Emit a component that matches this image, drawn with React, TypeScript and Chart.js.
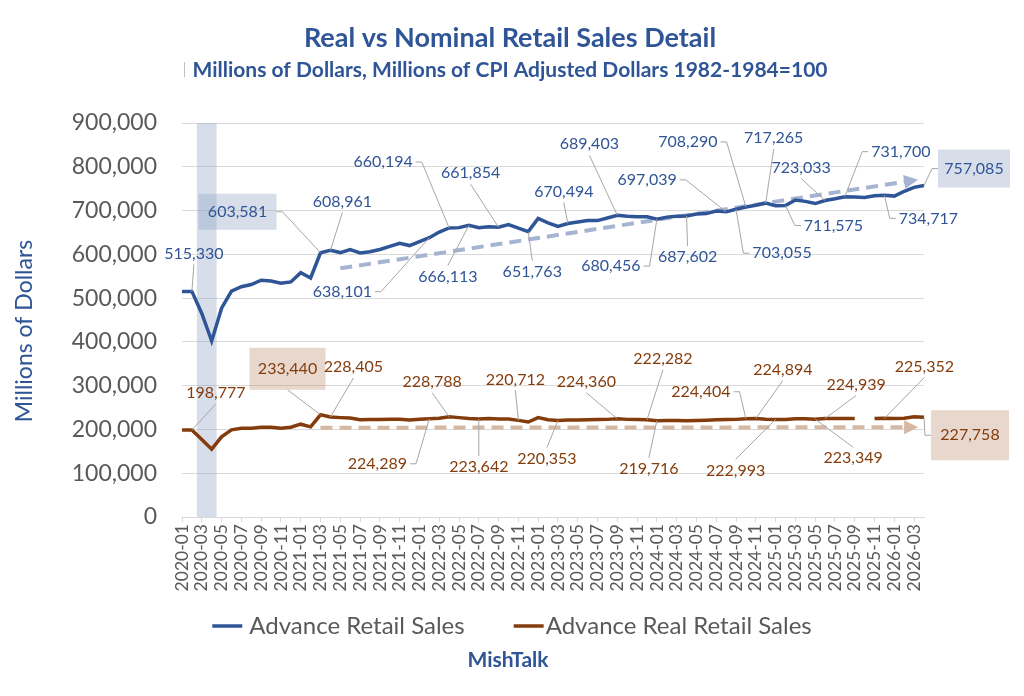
import { useEffect, useRef } from 'react';
import { Chart, registerables } from 'chart.js';

Chart.register(...registerables);

// ---------- data ----------
const months = [
  '2020-01', '2020-02', '2020-03', '2020-04', '2020-05', '2020-06', '2020-07', '2020-08', '2020-09', '2020-10', '2020-11', '2020-12',
  '2021-01', '2021-02', '2021-03', '2021-04', '2021-05', '2021-06', '2021-07', '2021-08', '2021-09', '2021-10', '2021-11', '2021-12',
  '2022-01', '2022-02', '2022-03', '2022-04', '2022-05', '2022-06', '2022-07', '2022-08', '2022-09', '2022-10', '2022-11', '2022-12',
  '2023-01', '2023-02', '2023-03', '2023-04', '2023-05', '2023-06', '2023-07', '2023-08', '2023-09', '2023-10', '2023-11', '2023-12',
  '2024-01', '2024-02', '2024-03', '2024-04', '2024-05', '2024-06', '2024-07', '2024-08', '2024-09', '2024-10', '2024-11', '2024-12',
  '2025-01', '2025-02', '2025-03', '2025-04', '2025-05', '2025-06', '2025-07', '2025-08', '2025-09', '2025-10', '2025-11', '2025-12',
  '2026-01', '2026-02', '2026-03', '2026-04',
];

const nominalSales: (number | null)[] = [
  515000, 515330, 465000, 402000, 477000, 516000, 526000, 531000, 541000, 539000, 534000, 537000,
  558000, 546000, 603581, 608961, 604000, 611000, 603000, 606000, 611000, 618000, 625000, 620000,
  629000, 638101, 651000, 660194, 661000, 666113, 661000, 663000, 661854, 668000, 660000, 651763,
  682000, 672000, 664000, 670494, 674000, 677000, 677000, 683000, 689403, 687000, 686000, 686000,
  680456, 685000, 687000, 687602, 692000, 693000, 699000, 697039, 703055, 708290, 712000, 717265,
  711000, 711575, 724000, 721000, 716000, 723033, 727000, 731700, 731000, 730000, 734000, 734717,
  733000, 744000, 753000, 757085,
];

const realSales: (number | null)[] = [
  198500, 198777, 177000, 155000, 183000, 199000, 202500, 203000, 205000, 205000, 202500, 205000,
  212000, 206000, 233440, 228405, 227000, 226000, 222000, 222500, 222500, 223500, 223500, 221500,
  223500, 224289, 225500, 228788, 227000, 225000, 223642, 225000, 224000, 224000, 220712, 217000,
  227000, 222000, 220353, 221500, 221500, 222000, 222500, 223000, 224360, 223000, 222500, 222282,
  219716, 220500, 220500, 220000, 220500, 221000, 222000, 222500, 223000, 224404, 224894, 223500,
  222993, 222500, 224500, 224500, 223349, 224939, 225000, 225000, 225000, null, 225000, 225352,
  225000, 225500, 229000, 227758,
];

const nominalTrend = [
  { x: '2021-05', y: 568000 },
  { x: '2026-03', y: 769000 },
];
const realTrend = [
  { x: '2021-03', y: 204000 },
  { x: '2026-03', y: 205000 },
];

const shadedMonths = ['2020-03', '2020-04'];

const yTicks = { min: 0, max: 900000, step: 100000 };

const seriesNames = ['Advance Retail Sales', 'Advance Real Retail Sales'];

// ---------- callout layout (pixel offsets of label from its point) ----------
type Callout = { month: string; dx: number; dy: number; box?: [number, number] };

const nominalCallouts: Callout[] = [
  { month: '2020-02', dx: 2, dy: -38 },
  { month: '2021-03', dx: -83, dy: -41, box: [39, 18] },
  { month: '2021-04', dx: 12, dy: -49 },
  { month: '2022-02', dx: -87, dy: 54 },
  { month: '2022-04', dx: -66, dy: -66 },
  { month: '2022-06', dx: -21, dy: 51 },
  { month: '2022-09', dx: -28, dy: -54 },
  { month: '2022-12', dx: 4, dy: 40 },
  { month: '2023-04', dx: -4, dy: -32 },
  { month: '2023-09', dx: -28, dy: -71 },
  { month: '2024-01', dx: -46, dy: 47 },
  { month: '2024-04', dx: 1, dy: 41 },
  { month: '2024-08', dx: -79, dy: -32 },
  { month: '2024-09', dx: 46, dy: 44 },
  { month: '2024-10', dx: -58, dy: -65 },
  { month: '2024-12', dx: 8, dy: -65 },
  { month: '2025-02', dx: 48, dy: 20 },
  { month: '2025-06', dx: -24, dy: -33 },
  { month: '2025-08', dx: 56, dy: -45 },
  { month: '2025-12', dx: 44, dy: 23 },
  { month: '2026-04', dx: 50, dy: -17, box: [36, 19] },
];

const realCallouts: Callout[] = [
  { month: '2020-02', dx: 24, dy: -37 },
  { month: '2021-03', dx: -33, dy: -46, box: [38, 21] },
  { month: '2021-04', dx: 23, dy: -50 },
  { month: '2022-02', dx: -52, dy: 45 },
  { month: '2022-04', dx: -17, dy: -35 },
  { month: '2022-07', dx: 0, dy: 48 },
  { month: '2022-11', dx: -3, dy: -41 },
  { month: '2023-03', dx: -11, dy: 38 },
  { month: '2023-09', dx: -31, dy: -37 },
  { month: '2023-12', dx: 16, dy: -61 },
  { month: '2024-01', dx: -8, dy: 48 },
  { month: '2024-10', dx: -45, dy: -27 },
  { month: '2024-11', dx: 27, dy: -49 },
  { month: '2025-01', dx: -40, dy: 51 },
  { month: '2025-05', dx: 38, dy: 39 },
  { month: '2025-06', dx: 31, dy: -34 },
  { month: '2025-12', dx: 40, dy: -52 },
  { month: '2026-04', dx: 46, dy: 18, box: [39, 25] },
];

// ---------- styles ----------
const FONT = 'Lato, "Open Sans", sans-serif';
const BLUE = '#2F5597';
const BROWN = '#843C0C';
const TEXT_GRAY = '#595959';
const GRID = '#D9D9D9';
const BLUE_TREND = '#A5B4D1';
const BROWN_TREND = '#D5B8A3';
const BAND = 'rgba(140,160,195,0.35)';
const BLUE_BOX = 'rgba(140,160,195,0.35)';
const BROWN_BOX = 'rgba(190,140,110,0.35)';

const fmt = (v: number) => v.toLocaleString('en-US');

const bandPlugin = {
  id: 'band',
  beforeDatasetsDraw(chart: any) {
    const { ctx, chartArea } = chart;
    const xs = chart.scales.x;
    const i0 = months.indexOf(shadedMonths[0]);
    const i1 = months.indexOf(shadedMonths[shadedMonths.length - 1]);
    const half = (xs.getPixelForValue(1) - xs.getPixelForValue(0)) / 2;
    const x0 = xs.getPixelForValue(i0) - half;
    const x1 = xs.getPixelForValue(i1) + half;
    ctx.save();
    ctx.fillStyle = BAND;
    ctx.fillRect(x0, chartArea.top, x1 - x0, chartArea.bottom - chartArea.top);
    ctx.restore();
  },
};

const arrowPlugin = {
  id: 'arrows',
  afterDatasetsDraw(chart: any) {
    const ctx = chart.ctx;
    [2, 3].forEach((di) => {
      const meta = chart.getDatasetMeta(di);
      const pts = meta.data;
      if (pts.length < 2) return;
      const a = pts[pts.length - 2];
      const b = pts[pts.length - 1];
      const ang = Math.atan2(b.y - a.y, b.x - a.x);
      const len = 14;
      const hw = 7;
      const color = chart.data.datasets[di].borderColor;
      ctx.save();
      ctx.translate(b.x, b.y);
      ctx.rotate(ang);
      ctx.fillStyle = color;
      ctx.beginPath();
      ctx.moveTo(4, 0);
      ctx.lineTo(4 - len, -hw);
      ctx.lineTo(4 - len, hw);
      ctx.closePath();
      ctx.fill();
      ctx.restore();
    });
  },
};

const calloutPlugin = {
  id: 'callouts',
  afterDatasetsDraw(chart: any) {
    const ctx = chart.ctx;
    const xs = chart.scales.x;
    const ys = chart.scales.y;
    const groups = [
      { values: nominalSales, callouts: nominalCallouts, color: BLUE, box: BLUE_BOX },
      { values: realSales, callouts: realCallouts, color: BROWN, box: BROWN_BOX },
    ];
    ctx.save();
    ctx.font = `16px ${FONT}`;
    for (const g of groups) {
      for (const c of g.callouts) {
        const i = months.indexOf(c.month);
        const v = g.values[i];
        if (v == null) continue;
        const px = xs.getPixelForValue(i);
        const py = ys.getPixelForValue(v);
        const text = fmt(v);
        const w = ctx.measureText(text).width;
        const cx = px + c.dx;
        const cy = py + c.dy;
        const hw = c.box ? c.box[0] : w / 2 + 3;
        const hh = c.box ? c.box[1] : 11;
        if (c.box) {
          ctx.fillStyle = g.box;
          ctx.fillRect(cx - hw, cy - hh, hw * 2, hh * 2);
        }
        ctx.strokeStyle = '#A6A6A6';
        ctx.lineWidth = 1;
        ctx.beginPath();
        if (Math.abs(c.dx) <= w / 2 + 12) {
          const sy = c.dy < 0 ? cy + hh : cy - hh;
          ctx.moveTo(cx, sy);
          ctx.lineTo(px, py);
        } else {
          const side = c.dx < 0 ? 1 : -1;
          const sx = cx + side * hw;
          ctx.moveTo(sx, cy);
          ctx.lineTo(sx + side * 6, cy);
          ctx.lineTo(px, py);
        }
        ctx.stroke();
        ctx.fillStyle = g.color;
        ctx.textAlign = 'center';
        ctx.textBaseline = 'middle';
        ctx.fillText(text, cx, cy);
      }
    }
    ctx.restore();
  },
};

const textPlugin = {
  id: 'texts',
  afterDraw(chart: any) {
    const ctx = chart.ctx;
    ctx.save();
    ctx.textBaseline = 'middle';
    ctx.textAlign = 'center';
    // title
    ctx.fillStyle = BLUE;
    ctx.font = `bold 27px ${FONT}`;
    ctx.fillText('Real vs Nominal Retail Sales Detail', 510, 38);
    ctx.font = `bold 21px ${FONT}`;
    ctx.fillText('Millions of Dollars, Millions of CPI Adjusted Dollars 1982-1984=100', 510, 70);
    ctx.strokeStyle = '#BFBFBF';
    ctx.lineWidth = 1;
    ctx.beginPath();
    ctx.moveTo(184.5, 62);
    ctx.lineTo(184.5, 77);
    ctx.stroke();
    // y title
    ctx.save();
    ctx.translate(25, 331);
    ctx.rotate(-Math.PI / 2);
    ctx.font = `23px ${FONT}`;
    ctx.fillStyle = BLUE;
    ctx.fillText('Millions of Dollars', 0, 0);
    ctx.restore();
    // legend
    ctx.font = `24px ${FONT}`;
    const colors = [BLUE, BROWN];
    const marker = 30;
    const gaps = [7, 2];
    const itemGap = 49;
    const widths = seriesNames.map((n) => ctx.measureText(n).width);
    const total = widths.reduce((s, w, i) => s + marker + gaps[i] + w, 0) + itemGap;
    let x = 512 - total / 2;
    const ly = 626;
    ctx.textAlign = 'left';
    seriesNames.forEach((n, i) => {
      ctx.strokeStyle = colors[i];
      ctx.lineWidth = 3.5;
      ctx.beginPath();
      ctx.moveTo(x, ly);
      ctx.lineTo(x + marker, ly);
      ctx.stroke();
      ctx.fillStyle = TEXT_GRAY;
      ctx.fillText(n, x + marker + gaps[i], ly);
      x += marker + gaps[i] + widths[i] + itemGap;
    });
    // credit
    ctx.textAlign = 'center';
    ctx.fillStyle = BLUE;
    ctx.font = `bold 21px ${FONT}`;
    ctx.fillText('MishTalk', 508, 660);
    ctx.restore();
  },
};

export default function App() {
  const canvasRef = useRef<HTMLCanvasElement | null>(null);

  useEffect(() => {
    if (!canvasRef.current) return;
    const chart = new Chart(canvasRef.current, {
      type: 'line',
      data: {
        labels: months,
        datasets: [
          {
            label: seriesNames[0],
            data: nominalSales,
            borderColor: BLUE,
            backgroundColor: BLUE,
            borderWidth: 3.5,
            pointRadius: 0,
            tension: 0,
            spanGaps: false,
          },
          {
            label: seriesNames[1],
            data: realSales,
            borderColor: BROWN,
            backgroundColor: BROWN,
            borderWidth: 3.5,
            pointRadius: 0,
            tension: 0,
            spanGaps: false,
          },
          {
            label: 'Nominal trend',
            data: nominalTrend as any,
            borderColor: BLUE_TREND,
            borderWidth: 4,
            borderDash: [12, 7],
            pointRadius: 0,
          },
          {
            label: 'Real trend',
            data: realTrend as any,
            borderColor: BROWN_TREND,
            borderWidth: 4,
            borderDash: [12, 7],
            pointRadius: 0,
          },
        ],
      },
      options: {
        animation: false,
        responsive: true,
        maintainAspectRatio: false,
        layout: { padding: { top: 123, right: 100, bottom: 0, left: 0 } },
        plugins: {
          legend: { display: false },
          tooltip: { enabled: false },
          title: { display: false },
        },
        scales: {
          x: {
            type: 'category',
            offset: false,
            grid: {
              display: true,
              drawOnChartArea: false,
              drawTicks: true,
              tickLength: 5,
              offset: false,
              color: (c: any) => (c.index % 2 === 0 ? GRID : 'rgba(0,0,0,0)'),
            },
            border: { display: true, color: GRID, width: 1 },
            ticks: {
              autoSkip: false,
              maxRotation: 90,
              minRotation: 90,
              padding: 2,
              color: TEXT_GRAY,
              font: { family: FONT, size: 17.5 },
              callback: function (this: any, value: any, index: number) {
                return index % 2 === 0 ? this.getLabelForValue(value) : '';
              },
            },
            afterFit: (scale: any) => {
              scale.height = 179;
            },
          },
          y: {
            min: yTicks.min,
            max: yTicks.max,
            ticks: {
              stepSize: yTicks.step,
              padding: 25,
              color: TEXT_GRAY,
              font: { family: FONT, size: 23 },
              callback: (v: any) => fmt(Number(v)),
            },
            grid: { color: GRID, drawTicks: false },
            border: { display: false },
            afterFit: (scale: any) => {
              scale.width = 182;
            },
          },
        },
      },
      plugins: [bandPlugin, arrowPlugin, calloutPlugin, textPlugin],
    });
    return () => chart.destroy();
  }, []);

  return (
    <div style={{ position: 'absolute', left: 0, top: 0, width: 1024, height: 696, background: '#ffffff' }}>
      <canvas ref={canvasRef} />
    </div>
  );
}
